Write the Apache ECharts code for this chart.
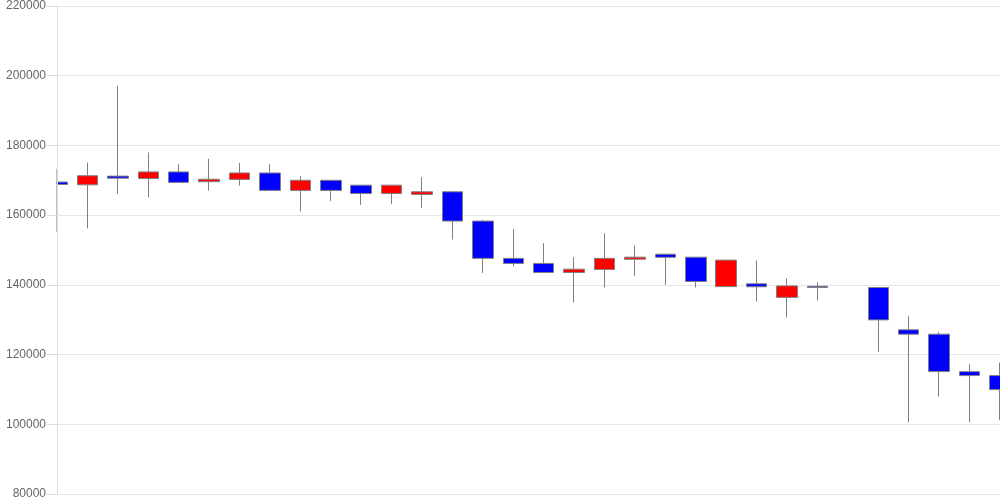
<!DOCTYPE html>
<html>
<head>
<meta charset="utf-8">
<script src="https://cdn.jsdelivr.net/npm/echarts@6/dist/echarts.min.js"></script>
<style>html,body{margin:0;padding:0;background:#fff}#c{width:1000px;height:500px}</style>
</head>
<body>
<div id="c"></div>
<script>
const categories = ['1','2','3','4','5','6','7','8','9','10','11','12','13','14','15','16','17','18','19','20','21','22','23','24','25','26','27','28','29','30','31','32'];
const opens  = [169500,168700,171200,170500,172400,169600,170250,172100,167100,170000,168600,166200,165950,166700,158300,147600,146150,143550,144400,147350,148800,147950,139500,140300,136400,139600,null,139230,127100,125850,115100,113970];
const closes = [168800,171300,170600,172400,169400,170300,172100,167100,170000,167100,166200,168600,166700,158300,147600,146150,143550,144500,147600,147950,147900,140950,147100,139450,139700,139250,null,129950,125850,115120,113970,109950];
const lows   = [155200,156200,166100,165100,169300,167000,168500,167100,161050,164000,162950,163150,162100,153000,143400,145300,143500,134950,139250,142500,140000,139230,139500,135200,130600,135500,null,120770,100600,107950,100600,101200];
const highs  = [173300,175100,197100,178000,174700,176200,175000,174700,171200,170000,168600,168600,170900,166700,158600,156000,151950,147950,154800,151300,148800,147950,147100,147000,141900,140800,null,139230,131000,126500,117250,117700];
const yTicks = { min: 80000, max: 220000, interval: 20000 };

const data = categories.map((c, i) => opens[i] == null ? '-' : [opens[i], closes[i], lows[i], highs[i]]);

const baseY = {
  type: 'value', position: 'left',
  min: yTicks.min, max: yTicks.max, interval: yTicks.interval
};

const chart = echarts.init(document.getElementById('c'));
chart.setOption({
  animation: false,
  grid: { left: 57, right: 0, top: 6, bottom: 6, containLabel: false },
  graphic: [{
    type: 'rect',
    z: 3,
    shape: { x: 0, y: 0, width: 56.5, height: 500 },
    style: { fill: '#fff' },
    silent: true
  }],
  xAxis: {
    type: 'category',
    data: categories,
    boundaryGap: false,
    axisLine: { show: false },
    axisTick: { show: false },
    axisLabel: { show: false },
    splitLine: { show: false }
  },
  yAxis: [
    Object.assign({}, baseY, {
      axisLine: { show: false },
      axisTick: { show: false },
      axisLabel: { show: false },
      splitLine: { show: true, lineStyle: { color: '#e6e6e6' } }
    }),
    Object.assign({}, baseY, {
      z: 5,
      axisLine: { show: true, lineStyle: { color: '#dcdcdc' } },
      axisTick: { show: true, length: 10, lineStyle: { color: '#dcdcdc' } },
      axisLabel: { color: '#666', fontSize: 12, fontFamily: 'Liberation Sans, Arial, sans-serif', margin: 11, formatter: v => String(v) },
      splitLine: { show: false }
    })
  ],
  series: [{
    type: 'candlestick',
    data: data,
    barWidth: 21,
    clip: true,
    itemStyle: {
      color: '#ff0000',
      color0: '#0000ff',
      borderColor: '#808080',
      borderColor0: '#808080',
      borderWidth: 1
    }
  }]
});
</script>
</body>
</html>
